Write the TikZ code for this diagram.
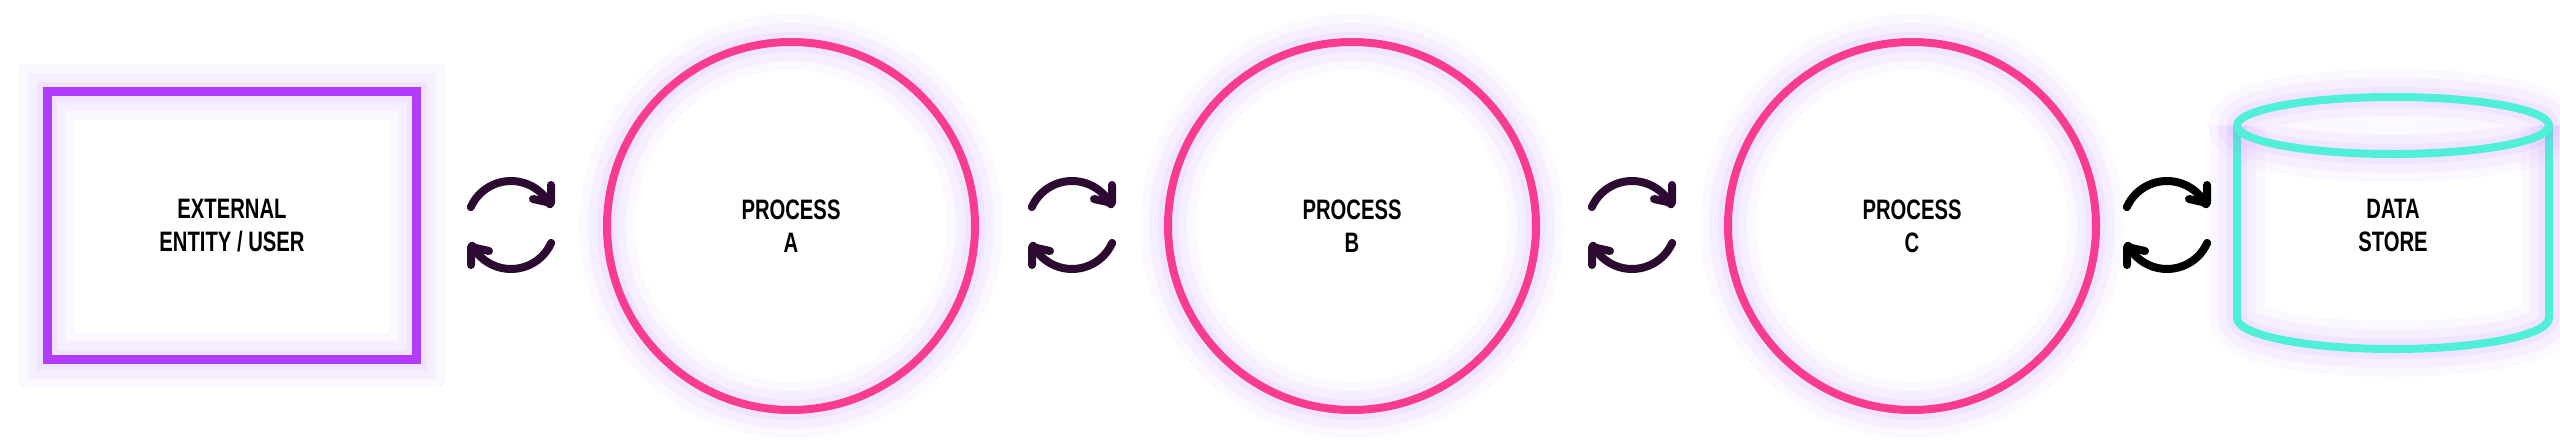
\documentclass[tikz,border=0pt]{standalone}
\usepackage{fontspec}
\setmainfont{Liberation Sans}[FakeStretch=0.72]
\usepackage{xcolor}
\definecolor{dfdPurple}{HTML}{B03CFF}
\definecolor{dfdPink}{HTML}{FA3C90}
\definecolor{dfdTeal}{HTML}{50F0D8}
\definecolor{dfdGlow}{HTML}{C27CFF}
\definecolor{dfdDark}{HTML}{2D0A31}
\usepackage{tikz}
\tikzset{glow/.style={preaction={draw=dfdGlow, line width=0.56cm, draw opacity=0.05},
  preaction={draw=dfdGlow, line width=0.38cm, draw opacity=0.07},
  preaction={draw=dfdGlow, line width=0.2cm, draw opacity=0.09}}}
\tikzset{every label text/.style={font=\bfseries\fontsize{8}{9.4}\selectfont, align=center}}
\tikzset{external entity/.style={glow, draw=dfdPurple, line width=0.09cm, minimum width=3.695cm, minimum height=2.68cm, every label text}}
\tikzset{process/.style={glow, circle, draw=dfdPink, line width=0.08cm, minimum size=3.68cm, every label text}}
\tikzset{data store/.style={glow, draw=dfdTeal, line width=0.08cm, line join=round}}
\tikzset{flow icon/.style={glow, line width=0.08cm, line cap=round, line join=round}}
\newcommand{\swapicon}[2]{%
  \begin{scope}[shift={(#1)}, flow icon, draw=#2]
    \draw (156:0.44) arc[start angle=156, end angle=28, radius=0.44];
    \draw (0.22,0.26) -- (0.40,0.22) -- (0.40,0.40);
    \draw (-24:0.44) arc[start angle=-24, end angle=-152, radius=0.44];
    \draw (-0.22,-0.26) -- (-0.40,-0.22) -- (-0.40,-0.40);
  \end{scope}}

\begin{document}
\begin{tikzpicture}
\useasboundingbox[fill=white] (0,0) rectangle (25.6,4.41);
\node[external entity](user) at (2.32,2.155){EXTERNAL\\ENTITY / USER};
\node[process](procA) at (7.91,2.15){PROCESS\\A};
\node[process](procB) at (13.52,2.15){PROCESS\\B};
\node[process](procC) at (19.12,2.15){PROCESS\\C};
% data store cylinder
\draw[data store] (22.37,3.155) -- (22.37,1.23) arc[start angle=180, end angle=360, x radius=1.56, y radius=0.31] -- (25.49,3.155);
\draw[data store] (23.93,3.155) ellipse[x radius=1.56, y radius=0.285];
\node[every label text](store) at (23.93,2.16){DATA\\STORE};
% exchange icons
\coordinate (flowUA) at (5.11,2.16);
\coordinate (flowAB) at (10.72,2.16);
\coordinate (flowBC) at (16.32,2.16);
\coordinate (flowCS) at (21.67,2.16);
\swapicon{flowUA}{dfdDark}
\swapicon{flowAB}{dfdDark}
\swapicon{flowBC}{dfdDark}
\swapicon{flowCS}{black}
\end{tikzpicture}
\end{document}
